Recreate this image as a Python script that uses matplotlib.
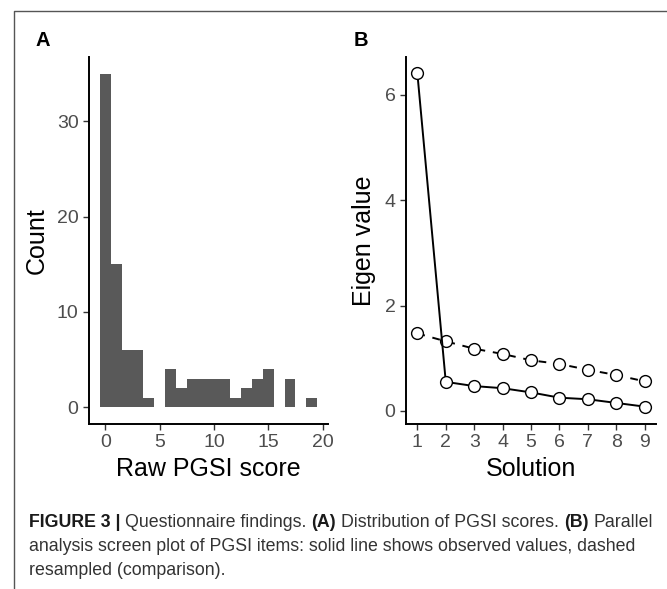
import matplotlib
matplotlib.use("Agg")
import matplotlib.pyplot as plt
from matplotlib.lines import Line2D
from matplotlib import font_manager

# panel A: histogram of raw PGSI scores (bin width 1)
pgsi_scores = list(range(20))
pgsi_counts = [35, 15, 6, 6, 1, 0, 4, 2, 3, 3, 3, 3, 1, 2, 3, 4, 0, 3, 0, 1]

# panel B: parallel analysis scree plot
solutions = [1, 2, 3, 4, 5, 6, 7, 8, 9]
observed = [6.41, 0.55, 0.47, 0.43, 0.35, 0.25, 0.22, 0.15, 0.08]
resampled = [1.47, 1.32, 1.18, 1.08, 0.96, 0.89, 0.78, 0.68, 0.56]

W, H = 667, 589
names = {f.name for f in font_manager.fontManager.ttflist}
base_font = "Liberation Sans" if "Liberation Sans" in names else "DejaVu Sans"
cap_font = "Liberation Sans Narrow" if "Liberation Sans Narrow" in names else base_font
plt.rcParams["font.family"] = [base_font, "DejaVu Sans"]

fig = plt.figure(figsize=(W / 100, H / 100), dpi=100)


def box(l, t, r, b):
    return [l / W, 1 - b / H, (r - l) / W, (b - t) / H]


def style_axes(ax):
    for s in ["top", "right"]:
        ax.spines[s].set_visible(False)
    for s in ["left", "bottom"]:
        ax.spines[s].set_linewidth(1.4)
        ax.spines[s].set_color("black")
    ax.tick_params(length=4.5, width=1.0, color="#333333", labelcolor="#4D4D4D",
                   labelsize=14, pad=3)


# ---- panel A
axA = fig.add_axes(box(89, 57, 328, 424))
axA.bar(pgsi_scores, pgsi_counts, width=1.0, color="#595959", linewidth=0)
axA.set_xlim(-1.5, 20.5)
axA.set_ylim(-1.75, 36.75)
axA.set_xticks([0, 5, 10, 15, 20])
axA.set_yticks([0, 10, 20, 30])
style_axes(axA)
axA.set_xlabel("Raw PGSI score", fontsize=18, va="center")
axA.set_ylabel("Count", fontsize=18, va="center")
axA.xaxis.set_label_coords(0.5, (424 - 469) / 367)
axA.yaxis.set_label_coords((37 - 89) / 239, 0.5)

# ---- panel B
axB = fig.add_axes(box(406, 57, 656, 424))
axB.plot(solutions, resampled, color="black", lw=1.4, ls=(0, (4, 4)),
         marker="o", ms=8.5, mfc="white", mec="black", mew=1.0)
axB.plot(solutions, observed, color="black", lw=1.4,
         marker="o", ms=8.5, mfc="white", mec="black", mew=1.0)
axB.set_xlim(0.6, 9.4)
axB.set_ylim(-0.25, 6.72)
axB.set_xticks(solutions)
axB.set_yticks([0, 2, 4, 6])
style_axes(axB)
axB.set_xlabel("Solution", fontsize=18, va="center")
axB.set_ylabel("Eigen value", fontsize=18, va="center")
axB.xaxis.set_label_coords(0.5, (424 - 469) / 367)
axB.yaxis.set_label_coords((364 - 406) / 250, 0.5)

# panel letters
fig.text(43 / W, 1 - 41 / H, "A", fontsize=14.5, fontweight="bold", ha="center", va="center")
fig.text(361 / W, 1 - 41 / H, "B", fontsize=14.5, fontweight="bold", ha="center", va="center")

# frame lines (top and left)
fig.add_artist(Line2D([14 / W, 14 / W, 1], [0, 1 - 11 / H, 1 - 11 / H],
                      transform=fig.transFigure, color="#555555", lw=1.0))

# ---- caption with mixed bold runs
renderer = fig.canvas.get_renderer()
caption = [
    [("FIGURE 3 |", "bold"), ("Questionnaire findings.", "normal"), ("(A)", "bold"),
     ("Distribution of PGSI scores.", "normal"), ("(B)", "bold"), ("Parallel", "normal")],
    [("analysis screen plot of PGSI items: solid line shows observed values, dashed", "normal")],
    [("resampled (comparison).", "normal")],
]


def text_width(s, size, weight):
    t = fig.text(0, 0, s, fontsize=size, fontweight=weight, family=cap_font)
    w = t.get_window_extent(renderer).width
    t.remove()
    return w


def space_width(size):
    return text_width("a a", size, "normal") - text_width("aa", size, "normal")


def line_width(runs, size):
    return sum(text_width(s, size, w) for s, w in runs) + space_width(size) * (len(runs) - 1)


cap_size = 10 * 624 / line_width(caption[0], 10)
sp = space_width(cap_size)
for i, runs in enumerate(caption):
    x = 29
    y = 527 + i * 24
    for s, w in runs:
        t = fig.text(x / W, 1 - y / H, s, fontsize=cap_size, fontweight=w, family=cap_font,
                     color="#1a1a1a" if w == "bold" else "#333333", va="baseline")
        x += t.get_window_extent(renderer).width + sp

fig.savefig("out.png", dpi=100)
